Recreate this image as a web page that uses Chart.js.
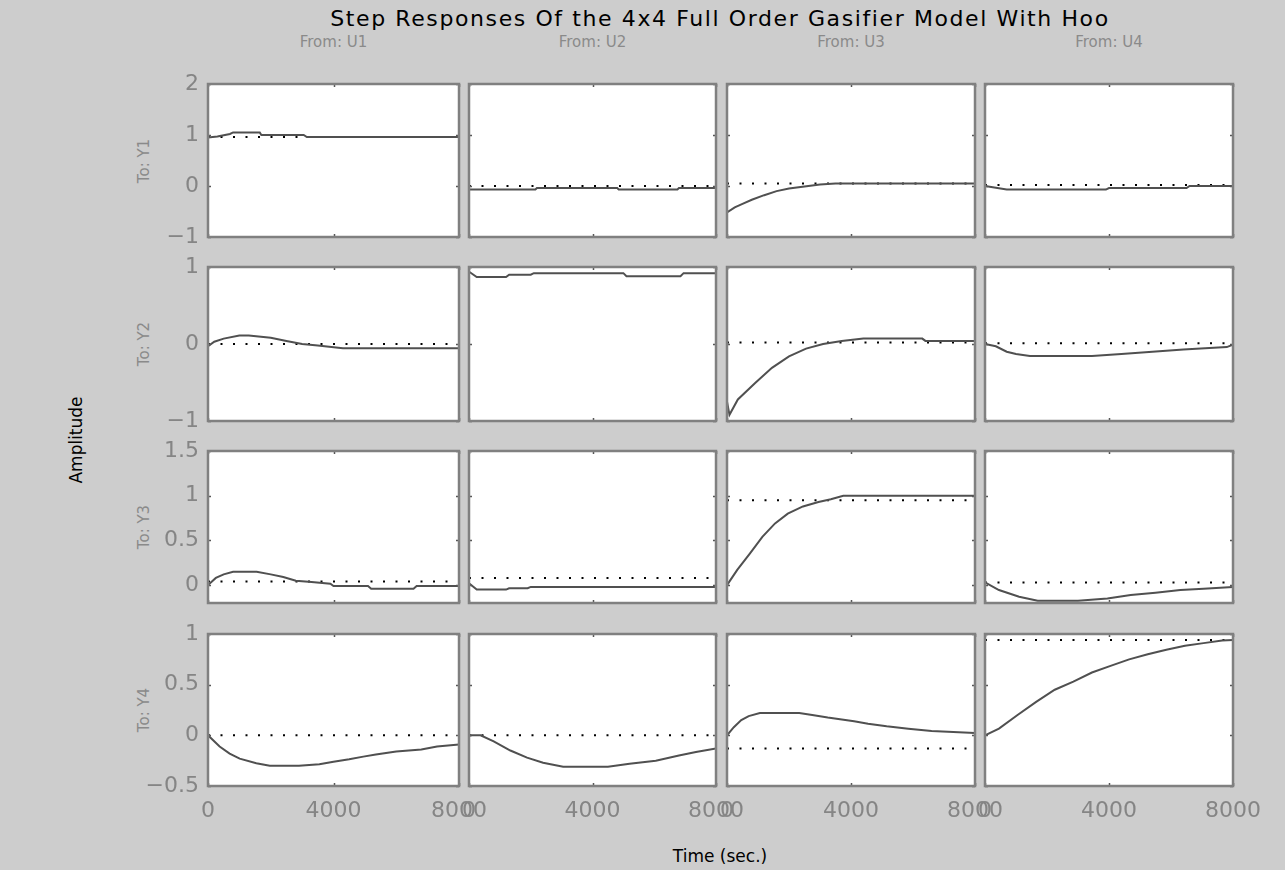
<!DOCTYPE html>
<html>
<head>
<meta charset="utf-8">
<script src="https://cdn.jsdelivr.net/npm/chart.js@4.4.1/dist/chart.umd.min.js"></script>
<style>
  body { margin: 0; width: 1285px; height: 870px; background: #cdcdcd; position: relative; overflow: hidden; font-family: "DejaVu Sans", sans-serif; }
  canvas { position: absolute; }
  .lbl { position: absolute; white-space: nowrap; transform: translate(-50%, -50%); }
  .rot { transform: translate(-50%, -50%) rotate(-90deg); }
</style>
</head>
<body>
<div class="lbl" style="left:720px;top:18px;font-size:22px;letter-spacing:1.6px;color:#000">Step Responses Of the 4x4 Full Order Gasifier Model With Hoo</div>
<div class="lbl rot" style="left:76px;top:440px;font-size:17px;color:#000">Amplitude</div>
<div class="lbl" style="left:720px;top:856px;font-size:17px;color:#000">Time (sec.)</div>
<div id="labels"></div>
<script>
// input / output names
const inputs = ['From: U1', 'From: U2', 'From: U3', 'From: U4'];
const outputs = ['To: Y1', 'To: Y2', 'To: Y3', 'To: Y4'];

// time axis ticks (sec.)
const xTicks = [0, 4000, 8000];

// amplitude ticks and ranges, per output row
const yTicks = [[-1, 0, 1, 2], [-1, 0, 1], [0, 0.5, 1, 1.5], [-0.5, 0, 0.5, 1]];
const yMin = [-1, -1, -0.2, -0.5];
const yMax = [2, 1, 1.5, 1];

// step responses, [time, amplitude]
const y1u1 = [[0, 0], [0, 0.95], [300, 0.97], [700, 1.02], [800, 1.05], [1650, 1.05], [1700, 1.0], [3050, 1.0], [3150, 0.96], [8000, 0.96]];
const y1u2 = [[0, -0.07], [2150, -0.07], [2200, -0.04], [4800, -0.04], [4850, -0.07], [6750, -0.07], [6800, -0.04], [8000, -0.04]];
const y1u3 = [[0, -0.52], [250, -0.42], [500, -0.35], [800, -0.27], [1200, -0.18], [1600, -0.1], [2000, -0.05], [2500, -0.01], [3000, 0.03], [3500, 0.05], [8000, 0.05]];
const y1u4 = [[0, 0], [300, -0.03], [700, -0.07], [3900, -0.07], [4000, -0.04], [6500, -0.04], [6600, 0], [8000, 0]];

const y2u1 = [[0, -0.03], [200, 0.03], [500, 0.07], [1000, 0.11], [1300, 0.11], [2000, 0.08], [2500, 0.04], [3000, 0.0], [3500, -0.02], [4300, -0.055], [8000, -0.055]];
const y2u2 = [[0, 0], [0, 0.94], [250, 0.87], [1200, 0.87], [1300, 0.9], [2000, 0.9], [2100, 0.92], [5000, 0.92], [5100, 0.88], [6850, 0.88], [6950, 0.92], [8000, 0.92]];
const y2u3 = [[0, -0.75], [80, -0.92], [350, -0.72], [900, -0.51], [1450, -0.31], [2000, -0.16], [2550, -0.06], [3100, 0], [3700, 0.04], [4400, 0.07], [6300, 0.07], [6400, 0.04], [8000, 0.04]];
const y2u4 = [[0, 0], [350, -0.03], [700, -0.1], [1000, -0.13], [1450, -0.155], [3450, -0.155], [4400, -0.13], [5400, -0.1], [6400, -0.07], [7800, -0.04], [8000, -0.01]];

const y3u1 = [[0, 0], [250, 0.08], [500, 0.12], [800, 0.15], [1550, 0.15], [2000, 0.12], [2400, 0.09], [2800, 0.05], [3300, 0.035], [3900, 0.015], [4000, -0.01], [5100, -0.01], [5200, -0.04], [6550, -0.04], [6650, -0.01], [8000, -0.01]];
const y3u2 = [[0, 0.02], [250, -0.05], [1200, -0.05], [1300, -0.035], [1900, -0.035], [2000, -0.02], [8000, -0.02]];
const y3u3 = [[0, 0], [330, 0.17], [730, 0.35], [1140, 0.54], [1550, 0.69], [1960, 0.8], [2450, 0.88], [2950, 0.93], [3350, 0.96], [3750, 1.0], [8000, 1.0]];
const y3u4 = [[0, 0.03], [450, -0.055], [1100, -0.13], [1700, -0.175], [3000, -0.175], [3950, -0.15], [4700, -0.11], [5500, -0.085], [6300, -0.055], [7050, -0.04], [8000, -0.02]];

const y4u1 = [[0, 0], [370, -0.11], [690, -0.18], [1010, -0.23], [1540, -0.275], [1970, -0.3], [2900, -0.3], [3550, -0.285], [4000, -0.26], [4500, -0.236], [4950, -0.21], [5350, -0.19], [6000, -0.16], [6800, -0.14], [7300, -0.11], [8000, -0.09]];
const y4u2 = [[0, 0], [375, 0], [800, -0.06], [1340, -0.15], [1880, -0.22], [2400, -0.27], [3050, -0.31], [4500, -0.31], [5200, -0.28], [6050, -0.25], [6800, -0.2], [7350, -0.165], [8000, -0.13]];
const y4u3 = [[0, 0], [220, 0.08], [460, 0.15], [700, 0.19], [1060, 0.22], [2330, 0.22], [2750, 0.2], [3250, 0.175], [4100, 0.14], [4550, 0.115], [5150, 0.09], [5850, 0.066], [6600, 0.043], [8000, 0.023]];
const y4u4 = [[0, 0], [450, 0.066], [1050, 0.2], [1650, 0.33], [2250, 0.45], [2850, 0.53], [3450, 0.62], [4050, 0.685], [4650, 0.75], [5250, 0.8], [5850, 0.845], [6450, 0.885], [7050, 0.91], [7650, 0.935], [8000, 0.94]];

// dotted steady-state levels, per row then column
const steady1 = [0.96, 0, 0.05, 0.02];
const steady2 = [0, 1.0, 0.02, 0.01];
const steady3 = [0.04, 0.08, 0.95, 0.03];
const steady4 = [0, 0, -0.13, 0.94];

const responses = [
  [y1u1, y1u2, y1u3, y1u4],
  [y2u1, y2u2, y2u3, y2u4],
  [y3u1, y3u2, y3u3, y3u4],
  [y4u1, y4u2, y4u3, y4u4]
];
const steady = [steady1, steady2, steady3, steady4];

// panel boxes on the page
const colLeft = [208, 469, 727, 985];
const colRight = [459, 716, 975, 1233];
const rowTop = [84, 267, 451, 634];
const rowBottom = [237, 421, 603, 786];
const ML = 62, MT = 30, MR = 40, MB = 46;

const tickFont = { family: '"DejaVu Sans", sans-serif', size: 22 };
const tickColor = '#858585';
const fmt = v => (v < 0 ? '\u2212' + Math.abs(v) : String(v));

// white plot box, grey frame and small inward ticks
const panelPlugin = {
  id: 'panel',
  beforeDraw(chart) {
    const { ctx, chartArea: a } = chart;
    ctx.save();
    ctx.fillStyle = '#fff';
    ctx.fillRect(a.left, a.top, a.right - a.left, a.bottom - a.top);
    ctx.restore();
  },
  afterDraw(chart) {
    const { ctx, chartArea: a, scales } = chart;
    ctx.save();
    ctx.strokeStyle = '#555';
    ctx.lineWidth = 1.5;
    ctx.beginPath();
    scales.y.ticks.forEach(t => {
      const py = Math.round(scales.y.getPixelForValue(t.value)) + 0.5;
      ctx.moveTo(a.left, py); ctx.lineTo(a.left + 3, py);
      ctx.moveTo(a.right, py); ctx.lineTo(a.right - 3, py);
    });
    scales.x.ticks.forEach(t => {
      const px = Math.round(scales.x.getPixelForValue(t.value)) + 0.5;
      ctx.moveTo(px, a.top); ctx.lineTo(px, a.top + 3);
      ctx.moveTo(px, a.bottom); ctx.lineTo(px, a.bottom - 3);
    });
    ctx.stroke();
    ctx.strokeStyle = '#808080';
    ctx.lineWidth = 2.5;
    ctx.strokeRect(a.left, a.top, a.right - a.left, a.bottom - a.top);
    ctx.restore();
  }
};

const labels = document.getElementById('labels');
function addLabel(text, x, y, rotate) {
  const d = document.createElement('div');
  d.className = 'lbl' + (rotate ? ' rot' : '');
  d.style.left = x + 'px';
  d.style.top = y + 'px';
  d.style.fontSize = '15px';
  d.style.color = '#8a8a8a';
  d.textContent = text;
  labels.appendChild(d);
}

inputs.forEach((name, c) => addLabel(name, (colLeft[c] + colRight[c]) / 2, 42, false));
outputs.forEach((name, r) => addLabel(name, 144, (rowTop[r] + rowBottom[r]) / 2, true));

for (let r = 0; r < 4; r++) {
  for (let c = 0; c < 4; c++) {
    const canvas = document.createElement('canvas');
    const w = colRight[c] - colLeft[c] + ML + MR;
    const h = rowBottom[r] - rowTop[r] + MT + MB;
    canvas.width = w;
    canvas.height = h;
    canvas.style.left = (colLeft[c] - ML) + 'px';
    canvas.style.top = (rowTop[r] - MT) + 'px';
    canvas.style.width = w + 'px';
    canvas.style.height = h + 'px';
    document.body.appendChild(canvas);

    const ss = steady[r][c];
    new Chart(canvas.getContext('2d'), {
      type: 'line',
      data: {
        datasets: [
          {
            data: responses[r][c].map(([x, y]) => ({ x, y })),
            borderColor: '#505050',
            borderWidth: 2,
            pointRadius: 0,
            tension: 0
          },
          {
            data: [{ x: xTicks[0], y: ss }, { x: xTicks[xTicks.length - 1], y: ss }],
            borderColor: '#000',
            borderWidth: 2,
            borderDash: [2, 10.5],
            pointRadius: 0
          }
        ]
      },
      options: {
        responsive: false,
        animation: false,
        devicePixelRatio: 1,
        layout: { padding: { top: MT, right: MR, left: 0, bottom: 0 } },
        plugins: { legend: { display: false }, tooltip: { enabled: false } },
        scales: {
          x: {
            type: 'linear',
            min: xTicks[0],
            max: xTicks[xTicks.length - 1],
            grid: { display: false, drawTicks: false },
            border: { display: false },
            afterBuildTicks: s => { s.ticks = xTicks.map(v => ({ value: v })); },
            afterFit: s => { s.height = MB; },
            ticks: { display: r === 3, padding: 12, autoSkip: false, maxRotation: 0, font: tickFont, color: tickColor, callback: fmt }
          },
          y: {
            type: 'linear',
            min: yMin[r],
            max: yMax[r],
            grid: { display: false, drawTicks: false },
            border: { display: false },
            afterBuildTicks: s => { s.ticks = yTicks[r].map(v => ({ value: v })); },
            afterFit: s => { s.width = ML; },
            ticks: { display: c === 0, padding: 9, font: tickFont, color: tickColor, callback: fmt }
          }
        }
      },
      plugins: [panelPlugin]
    });
  }
}
</script>
</body>
</html>
